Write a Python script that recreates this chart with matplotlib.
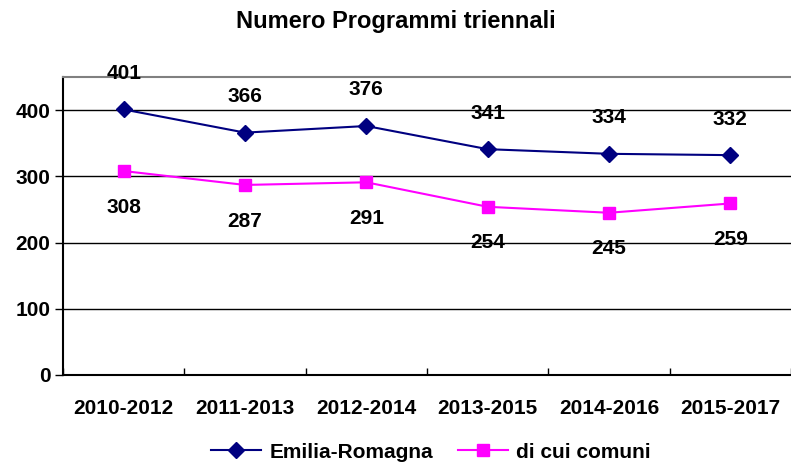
import numpy as np
import matplotlib.pyplot as plt

plt.rcParams['font.family'] = ['Liberation Sans', 'DejaVu Sans']
plt.rcParams['font.weight'] = 'bold'

periods = ["2010-2012", "2011-2013", "2012-2014", "2013-2015", "2014-2016", "2015-2017"]
emilia = [401, 366, 376, 341, 334, 332]
comuni = [308, 287, 291, 254, 245, 259]

fig = plt.figure(figsize=(7.91, 4.66), dpi=100)
ax = fig.add_axes([63 / 791, 91 / 466, 1 - 63 / 791, 298 / 466])

x = np.arange(len(periods))
ax.plot(x, emilia, color="#000080", lw=1.5, marker="D", ms=8, label="Emilia-Romagna")
ax.plot(x, comuni, color="#FF00FF", lw=1.5, marker="s", ms=8.5, label="di cui comuni")

# data labels: above for the region, below for municipalities
for xi, v in zip(x, emilia):
    ax.annotate(str(v), (xi, v), xytext=(0, 26), textcoords="offset points",
                ha="center", va="center", fontsize=15, fontweight="bold")
for xi, v in zip(x, comuni):
    ax.annotate(str(v), (xi, v), xytext=(0, -26), textcoords="offset points",
                ha="center", va="center", fontsize=15, fontweight="bold")

ax.set_ylim(0, 450)
ax.set_yticks([0, 100, 200, 300, 400])
ax.set_xlim(-0.5, (791 - 63) / 122.8 - 0.5)
ax.set_xticks(x)
ax.set_xticklabels(periods)
ax.set_xticks(np.arange(len(periods) + 1) - 0.5, minor=True)

for y in [100, 200, 300, 400]:
    ax.axhline(y, color="black", lw=1, zorder=0)

ax.tick_params(axis="x", which="major", length=0, pad=17, labelsize=15)
ax.tick_params(axis="x", which="minor", length=5, direction="in", width=1)
ax.tick_params(axis="y", length=6, width=1, labelsize=15, pad=3)
for lbl in ax.get_xticklabels() + ax.get_yticklabels():
    lbl.set_fontweight("bold")

ax.spines["right"].set_visible(False)
ax.spines["top"].set_color("#808080")
ax.spines["top"].set_linewidth(1.5)
ax.spines["left"].set_linewidth(1.5)
ax.spines["bottom"].set_linewidth(1.5)

fig.suptitle("Numero Programmi triennali", fontsize=17, fontweight="bold", y=0.978)
fig.legend(loc="center", bbox_to_anchor=(0.545, 0.03), ncol=2, frameon=False,
           prop={"size": 15, "weight": "bold"}, handlelength=2.4,
           handletextpad=0.4, columnspacing=1.2)

fig.savefig("out.png", dpi=100)
